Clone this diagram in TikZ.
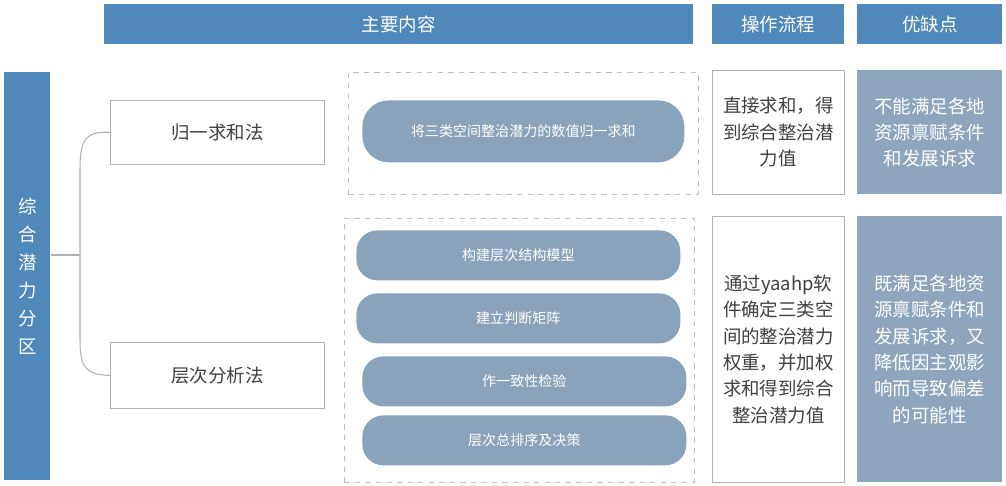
\documentclass[tikz,border=0pt]{standalone}
\usepackage{fontspec}
\setmainfont{Noto Sans CJK SC}
\begin{document}
\begin{tikzpicture}[x=0.02cm,y=-0.02cm,
 hdr/.style={fill=hb,draw=none,text=white,font=\fontsize{10.5}{12}\selectfont},
 wbox/.style={draw=gray!60,fill=white,text=tg,font=\fontsize{10.5}{15}\selectfont,align=center},
 gbox/.style={fill=gb,draw=none,text=white,font=\fontsize{10.5}{15}\selectfont,align=center},
 pill/.style={fill=pb,draw=none,text=white,rounded corners=12pt,font=\fontsize{8}{10}\selectfont},
 dbox/.style={draw=gray!50,dashed,fill=none},
 ln/.style={draw=gray!60,line width=0.6pt}]
\definecolor{hb}{HTML}{5088B9}
\definecolor{gb}{HTML}{8DA5BE}
\definecolor{pb}{HTML}{8AA3BD}
\definecolor{tg}{HTML}{404040}
\useasboundingbox (0,0) rectangle (1006,486);
\node[hdr,minimum width=589*0.02cm,minimum height=40*0.02cm,anchor=north west] (h1) at (104,4) {主要内容};
\node[hdr,minimum width=132*0.02cm,minimum height=40*0.02cm,anchor=north west] (h2) at (712,4) {操作流程};
\node[hdr,minimum width=145*0.02cm,minimum height=40*0.02cm,anchor=north west] (h3) at (857,4) {优缺点};
\node[fill=hb,text=white,minimum width=46*0.02cm,minimum height=408*0.02cm,anchor=north west,align=center,font=\fontsize{10.5}{16}\selectfont] (L) at (4,72) {综\\合\\潜\\力\\分\\区};
\node[wbox,minimum width=214*0.02cm,minimum height=64*0.02cm,anchor=north west] (a) at (110,100) {归一求和法};
\node[wbox,minimum width=214*0.02cm,minimum height=66*0.02cm,anchor=north west] (b) at (110,342) {层次分析法};
\coordinate (j) at (80,255);
\draw[ln] (L.east |- j) -- (j);
\draw[ln] (a.west) .. controls (85,131) and (80,140) .. (80,170) -- (j);
\draw[ln] (b.west) .. controls (85,375) and (80,366) .. (80,340) -- (j);
\node[dbox,minimum width=350*0.02cm,minimum height=122*0.02cm,anchor=north west] (d1) at (348,72) {};
\node[dbox,minimum width=350*0.02cm,minimum height=264*0.02cm,anchor=north west] (d2) at (344,218) {};
\node[pill,rounded corners=15pt,minimum width=322*0.02cm,minimum height=62*0.02cm,anchor=north west] (p0) at (362,100) {将三类空间整治潜力的数值归一求和};
\node[pill,minimum width=324*0.02cm,minimum height=50*0.02cm,anchor=north west] (p1) at (356,230) {构建层次结构模型};
\node[pill,minimum width=324*0.02cm,minimum height=50*0.02cm,anchor=north west] (p2) at (356,293) {建立判断矩阵};
\node[pill,minimum width=324*0.02cm,minimum height=50*0.02cm,anchor=north west] (p3) at (362,356) {作一致性检验};
\node[pill,minimum width=324*0.02cm,minimum height=50*0.02cm,anchor=north west] (p4) at (362,415) {层次总排序及决策};
\node[wbox,minimum width=132*0.02cm,minimum height=124*0.02cm,anchor=north west] (c1) at (712,70) {直接求和，得\\到综合整治潜\\力值};
\node[wbox,minimum width=132*0.02cm,minimum height=266*0.02cm,anchor=north west] (c2) at (712,216) {通过yaahp软\\件确定三类空\\间的整治潜力\\权重，并加权\\求和得到综合\\整治潜力值};
\node[gbox,minimum width=145*0.02cm,minimum height=124*0.02cm,anchor=north west] (e1) at (857,70) {不能满足各地\\资源禀赋条件\\和发展诉求};
\node[gbox,minimum width=145*0.02cm,minimum height=266*0.02cm,anchor=north west] (e2) at (857,216) {既满足各地资\\源禀赋条件和\\发展诉求，又\\降低因主观影\\响而导致偏差\\的可能性};
\end{tikzpicture}
\end{document}
